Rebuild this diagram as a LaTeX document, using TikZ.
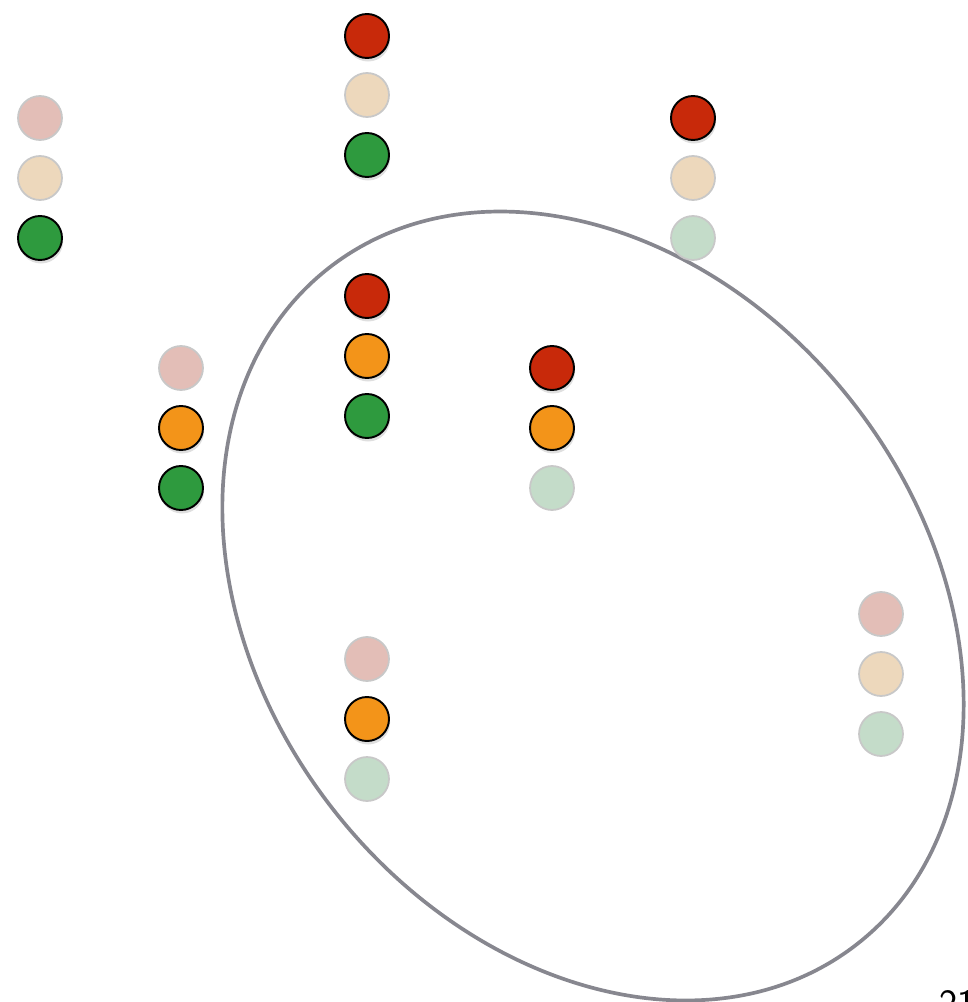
\documentclass[tikz,border=0pt]{standalone}
\usepackage{tikz}
\usetikzlibrary{shadows}
\usepackage{xcolor}
\definecolor{lampred}{RGB}{200,41,10}
\definecolor{lamporange}{RGB}{243,148,25}
\definecolor{lampgreen}{RGB}{46,154,62}
\definecolor{dimred}{RGB}{227,190,183}
\definecolor{dimtan}{RGB}{237,216,188}
\definecolor{dimgreen}{RGB}{196,220,201}
\definecolor{dimrim}{RGB}{200,200,200}
\definecolor{ringgray}{RGB}{135,135,143}

\begin{document}
\begin{tikzpicture}[
    lamp/.style={circle, minimum size=0.88cm, inner sep=0pt},
    lit/.style={lamp, draw=black, line width=1.1pt,
                drop shadow={shadow xshift=0.6pt, shadow yshift=-2pt, opacity=0.25}},
    dim/.style={lamp, draw=dimrim, line width=1pt},
    ring/.style={draw=ringgray, line width=2.1pt}
]
    \useasboundingbox (0,0) rectangle (19.34,-20.04);

    % The selected region
    \draw[ring] (11.86,-12.12) ellipse[x radius=8.58cm, y radius=6.6cm, rotate=-52];

    % Top left
    \node[dim, fill=dimred]   (a1) at (0.80,-2.36) {};
    \node[dim, fill=dimtan]   (a2) at (0.80,-3.56) {};
    \node[lit, fill=lampgreen] (a3) at (0.80,-4.76) {};

    % Top centre
    \node[lit, fill=lampred]   (b1) at (7.34,-0.72) {};
    \node[dim, fill=dimtan]   (b2) at (7.34,-1.90) {};
    \node[lit, fill=lampgreen] (b3) at (7.34,-3.10) {};

    % Top right
    \node[lit, fill=lampred]   (c1) at (13.86,-2.36) {};
    \node[dim, fill=dimtan]   (c2) at (13.86,-3.56) {};
    \node[dim, fill=dimgreen] (c3) at (13.86,-4.76) {};

    % Inside, all lit
    \node[lit, fill=lampred]    (d1) at (7.34,-5.92) {};
    \node[lit, fill=lamporange] (d2) at (7.34,-7.12) {};
    \node[lit, fill=lampgreen]  (d3) at (7.34,-8.32) {};

    % Left of the ring
    \node[dim, fill=dimred]     (e1) at (3.62,-7.36) {};
    \node[lit, fill=lamporange] (e2) at (3.62,-8.56) {};
    \node[lit, fill=lampgreen]  (e3) at (3.62,-9.76) {};

    % Inside, right
    \node[lit, fill=lampred]    (f1) at (11.04,-7.36) {};
    \node[lit, fill=lamporange] (f2) at (11.04,-8.56) {};
    \node[dim, fill=dimgreen]   (f3) at (11.04,-9.76) {};

    % Inside, bottom
    \node[dim, fill=dimred]     (g1) at (7.34,-13.18) {};
    \node[lit, fill=lamporange] (g2) at (7.34,-14.38) {};
    \node[dim, fill=dimgreen]   (g3) at (7.34,-15.58) {};

    % Far right, all dark
    \node[dim, fill=dimred]   (h1) at (17.62,-12.28) {};
    \node[dim, fill=dimtan]   (h2) at (17.62,-13.48) {};
    \node[dim, fill=dimgreen] (h3) at (17.62,-14.68) {};

    % Page number, cut by the page edge
    \node[anchor=base west, font=\sffamily\fontsize{22}{26}\selectfont, inner sep=0pt]
        (pagenum) at (18.78,-20.32) {21};
\end{tikzpicture}
\end{document}
